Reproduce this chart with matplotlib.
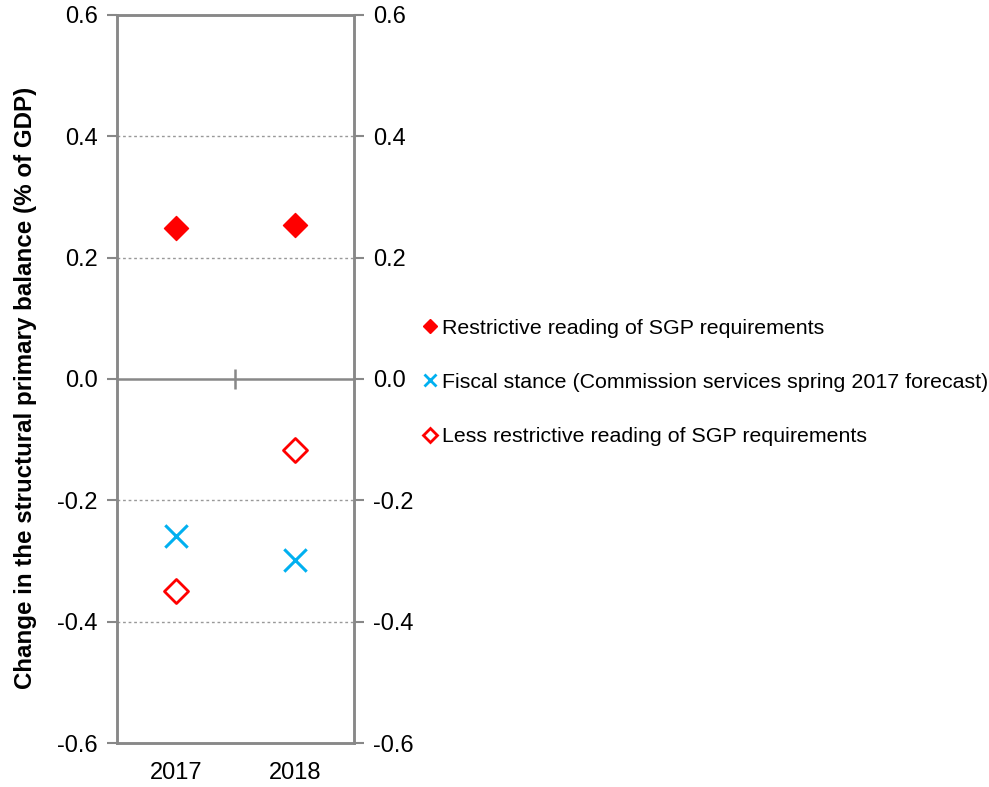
import matplotlib
matplotlib.use('Agg')
import matplotlib.pyplot as plt
from matplotlib.lines import Line2D

plt.rcParams['font.family'] = ['Liberation Sans', 'DejaVu Sans']

# Données
annees = ['2017', '2018']
restrictive = [0.249, 0.254]
fiscal = [-0.259, -0.298]
moins_restrictive = [-0.349, -0.117]
yticks = [-0.6, -0.4, -0.2, 0.0, 0.2, 0.4, 0.6]

labels = ['Restrictive reading of SGP requirements',
          'Fiscal stance (Commission services spring 2017 forecast)',
          'Less restrictive reading of SGP requirements']

rouge = '#FF0000'
bleu = '#00B0F0'
gris = '#888888'
fs = 17
fs_leg = 15.4

fig = plt.figure(figsize=(9.89, 7.87), dpi=100)
ax = fig.add_axes([0.1183, 0.0559, 0.2396, 0.9251])

x = list(range(len(annees)))
ax.scatter(x, restrictive, marker='D', s=150, color=rouge, zorder=3)
ax.scatter(x, fiscal, marker='x', s=260, color=bleu, linewidths=2.2, zorder=3)
ax.scatter(x, moins_restrictive, marker='D', s=150, facecolors='white',
           edgecolors=rouge, linewidths=2, zorder=3)

ax.set_xlim(-0.5, 1.5)
ax.set_ylim(-0.6, 0.6)
ax.set_yticks(yticks)
ax.set_yticklabels([f'{v:.1f}' for v in yticks], fontsize=fs)
ax.set_xticks(x)
ax.set_xticklabels(annees, fontsize=fs)
ax.tick_params(axis='x', length=0, pad=14)
ax.tick_params(axis='y', direction='out', length=7, width=1.5, color=gris, pad=7)

# Grille pointillée
for v in [-0.4, -0.2, 0.2, 0.4]:
    ax.axhline(v, color='#999999', lw=1, ls=(0, (2, 2)), zorder=1)
# Ligne du zéro avec graduation au milieu
ax.axhline(0, color=gris, lw=1.8, zorder=2)
ax.plot([0.5], [0], marker='|', markersize=14, mew=1.8, color=gris, zorder=2)

for s in ax.spines.values():
    s.set_color(gris)
    s.set_linewidth(1.8)

ax2 = ax.twinx()
ax2.set_ylim(-0.6, 0.6)
ax2.set_yticks(yticks)
ax2.set_yticklabels([f'{v:.1f}' for v in yticks], fontsize=fs)
ax2.tick_params(axis='y', direction='out', length=7, width=1.5, color=gris, pad=7)
for s in ax2.spines.values():
    s.set_color(gris)
    s.set_linewidth(1.8)

ax.set_ylabel('Change in the structural primary balance (% of GDP)',
              fontsize=17.4, fontweight='bold', labelpad=14)
ax.yaxis.label.set_y(0.488)

# Légende
poignees = [
    Line2D([], [], ls='none', marker='D', markersize=7, color=rouge),
    Line2D([], [], ls='none', marker='x', markersize=9, mew=2, color=bleu),
    Line2D([], [], ls='none', marker='D', markersize=7, mfc='white', mec=rouge, mew=2),
]
fig.legend(poignees, labels, loc='center left', bbox_to_anchor=(0.42, 0.514),
           frameon=False, fontsize=fs_leg, handlelength=0.6, handletextpad=0.25,
           labelspacing=1.65, borderaxespad=0)

fig.savefig('out.png', dpi=100)
